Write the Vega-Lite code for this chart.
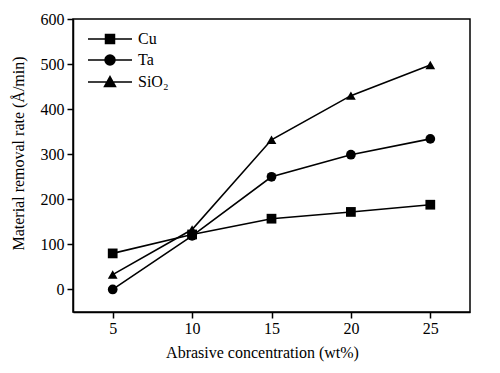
{
  "$schema": "https://vega.github.io/schema/vega-lite/v6.json",
  "autosize": "none",
  "width": 397,
  "height": 293,
  "padding": {"left": 73, "top": 19, "right": 30, "bottom": 61},
  "background": "white",
  "config": {
    "font": "Liberation Serif",
    "view": {"stroke": "black", "strokeWidth": 1.5},
    "axis": {
      "domainColor": "black", "domainWidth": 1.5,
      "tickColor": "black", "tickWidth": 1.5, "tickSize": 6,
      "labelColor": "black", "labelFont": "Liberation Serif", "labelFontSize": 16,
      "titleColor": "black", "titleFont": "Liberation Serif", "titleFontSize": 16, "titleFontWeight": "normal",
      "grid": false
    },
    "legend": {
      "labelFont": "Liberation Serif", "labelFontSize": 16, "labelColor": "black"
    }
  },
  "data": {
    "values": [
      {"c": 5, "rate": 80, "s": "Cu"},
      {"c": 10, "rate": 122, "s": "Cu"},
      {"c": 15, "rate": 157, "s": "Cu"},
      {"c": 20, "rate": 172, "s": "Cu"},
      {"c": 25, "rate": 188, "s": "Cu"},
      {"c": 5, "rate": 0, "s": "Ta"},
      {"c": 10, "rate": 119, "s": "Ta"},
      {"c": 15, "rate": 250, "s": "Ta"},
      {"c": 20, "rate": 299, "s": "Ta"},
      {"c": 25, "rate": 334, "s": "Ta"},
      {"c": 5, "rate": 33, "s": "SiO₂"},
      {"c": 10, "rate": 133, "s": "SiO₂"},
      {"c": 15, "rate": 332, "s": "SiO₂"},
      {"c": 20, "rate": 430, "s": "SiO₂"},
      {"c": 25, "rate": 498, "s": "SiO₂"}
    ]
  },
  "encoding": {
    "x": {
      "field": "c", "type": "quantitative",
      "scale": {"domain": [2.5, 27.5], "nice": false, "zero": false},
      "axis": {"values": [5, 10, 15, 20, 25], "title": "Abrasive concentration (wt%)", "labelFont": "Liberation Serif", "labelFontSize": 16, "labelPadding": 2, "titleX": 189, "titleY": 40, "titleAlign": "center", "titleBaseline": "middle"}
    },
    "y": {
      "field": "rate", "type": "quantitative",
      "scale": {"domain": [-50, 600], "nice": false, "zero": false},
      "axis": {"values": [0, 100, 200, 300, 400, 500, 600], "title": "Material removal rate (Å/min)", "labelFont": "Liberation Serif", "labelFontSize": 16, "labelPadding": 3, "titleX": -55, "titleY": 134, "titleAlign": "center", "titleBaseline": "middle", "titleAngle": -90}
    }
  },
  "layer": [
    {
      "mark": {"type": "line", "color": "black", "strokeWidth": 1.6},
      "encoding": {"detail": {"field": "s"}}
    },
    {
      "mark": {"type": "point", "filled": true, "color": "black", "opacity": 1},
      "encoding": {
        "shape": {"field": "s", "type": "nominal", "scale": {"domain": ["Cu", "Ta", "SiO₂"], "range": ["square", "circle", "triangle-up"]}, "legend": null},
        "size": {"value": 95}
      }
    },
    {
      "mark": {"type": "point", "filled": false, "stroke": "black", "strokeWidth": 1.5, "opacity": 1},
      "encoding": {
        "shape": {
          "field": "s", "type": "nominal",
          "scale": {"domain": ["Cu", "Ta", "SiO₂"], "range": [
            "M-4.4,0L4.4,0M-0.9,-0.9L0.9,-0.9L0.9,0.9L-0.9,0.9ZM-0.9,-0.7L0.9,-0.7M-0.9,-0.5L0.9,-0.5M-0.9,-0.3L0.9,-0.3M-0.9,-0.1L0.9,-0.1M-0.9,0.1L0.9,0.1M-0.9,0.3L0.9,0.3M-0.9,0.5L0.9,0.5M-0.9,0.7L0.9,0.7",
            "M-4.4,0L4.4,0M-1,0A1,1,0,1,0,1,0A1,1,0,1,0,-1,0ZM-0.44,-0.9L0.44,-0.9M-0.71,-0.7L0.71,-0.7M-0.87,-0.5L0.87,-0.5M-0.95,-0.3L0.95,-0.3M-1,-0.1L1,-0.1M-1,0.1L1,0.1M-0.95,0.3L0.95,0.3M-0.87,0.5L0.87,0.5M-0.71,0.7L0.71,0.7M-0.44,0.9L0.44,0.9",
            "M-4.4,0L4.4,0M0,-1.1L1.1,0.9L-1.1,0.9ZM-0.11,-0.9L0.11,-0.9M-0.22,-0.7L0.22,-0.7M-0.33,-0.5L0.33,-0.5M-0.44,-0.3L0.44,-0.3M-0.55,-0.1L0.55,-0.1M-0.66,0.1L0.66,0.1M-0.77,0.3L0.77,0.3M-0.88,0.5L0.88,0.5M-0.99,0.7L0.99,0.7"
          ]},
          "legend": {
            "title": null, "orient": "none", "legendX": 29, "legendY": 12,
            "padding": 0, "symbolSize": 100,
            "labelOffset": 20, "rowPadding": 5,
            "encode": {"symbols": {"update": {"fill": {"value": "black"}, "fillOpacity": {"value": 1}}}}
          }
        },
        "size": {"value": 0}
      }
    }
  ],
  "resolve": {"scale": {"shape": "independent"}}
}
